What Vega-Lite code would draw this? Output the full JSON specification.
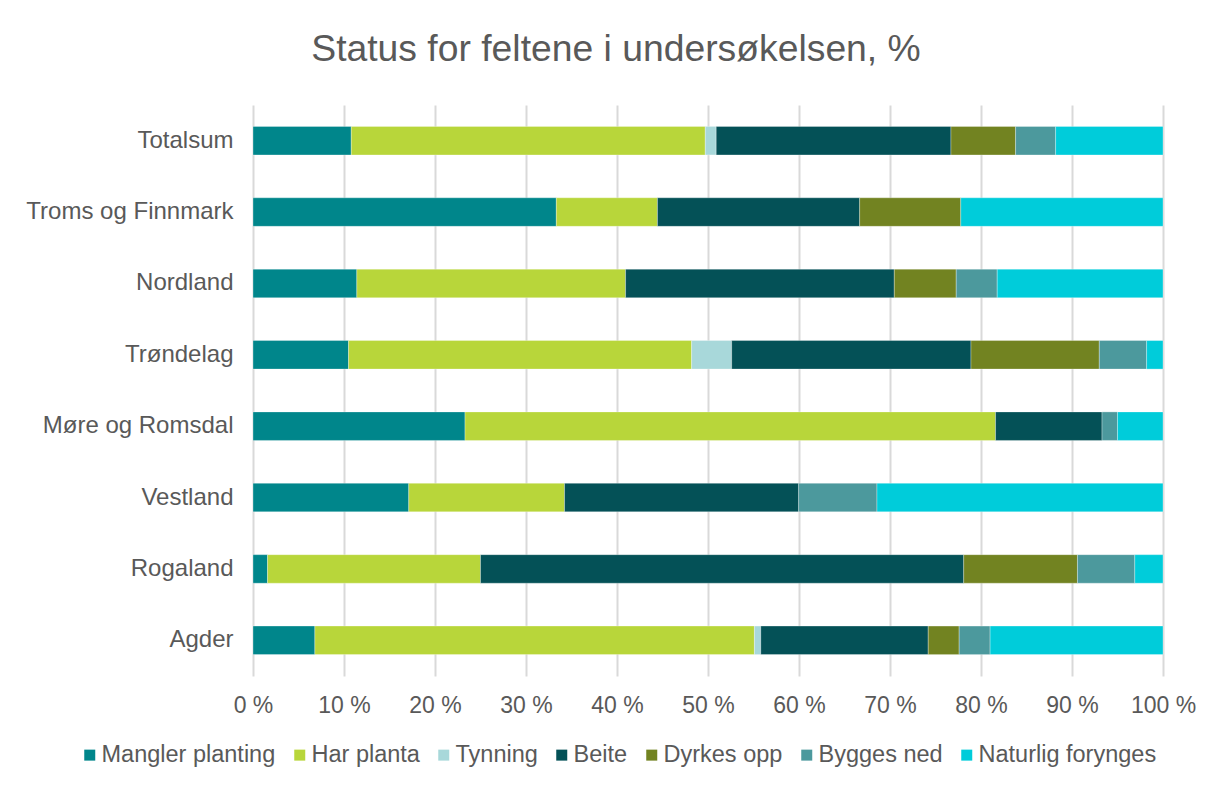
{
  "$schema": "https://vega.github.io/schema/vega-lite/v6.json",
  "width": 910,
  "height": 571,
  "autosize": {"type": "none"},
  "padding": {"left": 253, "top": 105, "right": 62, "bottom": 113},
  "background": "#ffffff",
  "title": {
    "text": "Status for feltene i undersøkelsen, %",
    "anchor": "middle",
    "dx": -92,
    "offset": 36,
    "font": "Liberation Sans",
    "fontSize": 37.3,
    "fontWeight": "normal",
    "color": "#595959"
  },
  "data": {
    "values": [
      {"region": "Totalsum", "status": "Mangler planting", "k": 1, "pct": 10.8},
      {"region": "Totalsum", "status": "Har planta", "k": 2, "pct": 38.9},
      {"region": "Totalsum", "status": "Tynning", "k": 3, "pct": 1.2},
      {"region": "Totalsum", "status": "Beite", "k": 4, "pct": 25.8},
      {"region": "Totalsum", "status": "Dyrkes opp", "k": 5, "pct": 7.1},
      {"region": "Totalsum", "status": "Bygges ned", "k": 6, "pct": 4.4},
      {"region": "Totalsum", "status": "Naturlig forynges", "k": 7, "pct": 11.8},
      {"region": "Troms og Finnmark", "status": "Mangler planting", "k": 1, "pct": 33.3},
      {"region": "Troms og Finnmark", "status": "Har planta", "k": 2, "pct": 11.1},
      {"region": "Troms og Finnmark", "status": "Beite", "k": 4, "pct": 22.2},
      {"region": "Troms og Finnmark", "status": "Dyrkes opp", "k": 5, "pct": 11.1},
      {"region": "Troms og Finnmark", "status": "Naturlig forynges", "k": 7, "pct": 22.2},
      {"region": "Nordland", "status": "Mangler planting", "k": 1, "pct": 11.4},
      {"region": "Nordland", "status": "Har planta", "k": 2, "pct": 29.5},
      {"region": "Nordland", "status": "Beite", "k": 4, "pct": 29.5},
      {"region": "Nordland", "status": "Dyrkes opp", "k": 5, "pct": 6.8},
      {"region": "Nordland", "status": "Bygges ned", "k": 6, "pct": 4.5},
      {"region": "Nordland", "status": "Naturlig forynges", "k": 7, "pct": 18.2},
      {"region": "Trøndelag", "status": "Mangler planting", "k": 1, "pct": 10.5},
      {"region": "Trøndelag", "status": "Har planta", "k": 2, "pct": 37.7},
      {"region": "Trøndelag", "status": "Tynning", "k": 3, "pct": 4.4},
      {"region": "Trøndelag", "status": "Beite", "k": 4, "pct": 26.3},
      {"region": "Trøndelag", "status": "Dyrkes opp", "k": 5, "pct": 14.1},
      {"region": "Trøndelag", "status": "Bygges ned", "k": 6, "pct": 5.2},
      {"region": "Trøndelag", "status": "Naturlig forynges", "k": 7, "pct": 1.8},
      {"region": "Møre og Romsdal", "status": "Mangler planting", "k": 1, "pct": 23.3},
      {"region": "Møre og Romsdal", "status": "Har planta", "k": 2, "pct": 58.3},
      {"region": "Møre og Romsdal", "status": "Beite", "k": 4, "pct": 11.7},
      {"region": "Møre og Romsdal", "status": "Bygges ned", "k": 6, "pct": 1.7},
      {"region": "Møre og Romsdal", "status": "Naturlig forynges", "k": 7, "pct": 5.0},
      {"region": "Vestland", "status": "Mangler planting", "k": 1, "pct": 17.1},
      {"region": "Vestland", "status": "Har planta", "k": 2, "pct": 17.1},
      {"region": "Vestland", "status": "Beite", "k": 4, "pct": 25.7},
      {"region": "Vestland", "status": "Bygges ned", "k": 6, "pct": 8.6},
      {"region": "Vestland", "status": "Naturlig forynges", "k": 7, "pct": 31.4},
      {"region": "Rogaland", "status": "Mangler planting", "k": 1, "pct": 1.6},
      {"region": "Rogaland", "status": "Har planta", "k": 2, "pct": 23.4},
      {"region": "Rogaland", "status": "Beite", "k": 4, "pct": 53.1},
      {"region": "Rogaland", "status": "Dyrkes opp", "k": 5, "pct": 12.5},
      {"region": "Rogaland", "status": "Bygges ned", "k": 6, "pct": 6.3},
      {"region": "Rogaland", "status": "Naturlig forynges", "k": 7, "pct": 3.1},
      {"region": "Agder", "status": "Mangler planting", "k": 1, "pct": 6.8},
      {"region": "Agder", "status": "Har planta", "k": 2, "pct": 48.3},
      {"region": "Agder", "status": "Tynning", "k": 3, "pct": 0.7},
      {"region": "Agder", "status": "Beite", "k": 4, "pct": 18.4},
      {"region": "Agder", "status": "Dyrkes opp", "k": 5, "pct": 3.4},
      {"region": "Agder", "status": "Bygges ned", "k": 6, "pct": 3.4},
      {"region": "Agder", "status": "Naturlig forynges", "k": 7, "pct": 19.0}
    ]
  },
  "mark": {"type": "bar", "stroke": "#ffffff", "strokeWidth": 0.6, "strokeOpacity": 0.5},
  "encoding": {
    "y": {
      "field": "region",
      "type": "nominal",
      "sort": ["Totalsum", "Troms og Finnmark", "Nordland", "Trøndelag", "Møre og Romsdal", "Vestland", "Rogaland", "Agder"],
      "scale": {"paddingInner": 0.6, "paddingOuter": 0.3},
      "axis": {
        "title": null,
        "ticks": false,
        "domain": false,
        "labelFont": "Liberation Sans",
        "labelFontSize": 24,
        "labelLimit": 0,
        "labelColor": "#595959",
        "labelPadding": 20
      }
    },
    "x": {
      "field": "pct",
      "type": "quantitative",
      "stack": "normalize",
      "scale": {"domain": [0, 1], "nice": false},
      "axis": {
        "title": null,
        "format": ".0%",
        "labelExpr": "replace(datum.label, '%', ' %')",
        "values": [0, 0.1, 0.2, 0.3, 0.4, 0.5, 0.6, 0.7, 0.8, 0.9, 1.0],
        "ticks": false,
        "domain": false,
        "grid": true,
        "gridColor": "#D9D9D9",
        "gridWidth": 2,
        "labelFont": "Liberation Sans",
        "labelFontSize": 23,
        "labelColor": "#595959",
        "labelPadding": 18,
        "labelFlush": false
      }
    },
    "order": {"field": "k", "type": "quantitative", "sort": "ascending"},
    "color": {
      "field": "status",
      "type": "nominal",
      "scale": {
        "domain": ["Mangler planting", "Har planta", "Tynning", "Beite", "Dyrkes opp", "Bygges ned", "Naturlig forynges"],
        "range": ["#00868B", "#B8D63A", "#A8D8DA", "#045157", "#728321", "#4C999D", "#00CCDA"]
      },
      "legend": {
        "title": null,
        "orient": "none",
        "direction": "horizontal",
        "legendX": -175,
        "legendY": 638,
        "symbolType": "square",
        "symbolSize": 121,
        "symbolStrokeWidth": 0,
        "labelFont": "Liberation Sans",
        "labelFontSize": 23.5,
        "labelLimit": 0,
        "labelColor": "#595959",
        "labelOffset": 0,
        "columnPadding": 12
      }
    }
  },
  "config": {
    "view": {"stroke": null}
  }
}
